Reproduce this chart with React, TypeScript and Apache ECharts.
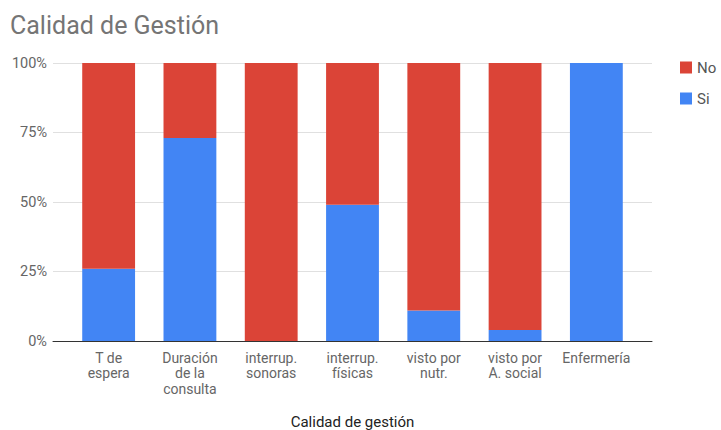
import React, { useEffect, useRef } from "react";
import * as echarts from "echarts";

const categories = [
  "T de espera",
  "Duración de la consulta",
  "interrup. sonoras",
  "interrup. físicas",
  "visto por nutr.",
  "visto por A. social",
  "Enfermería",
];
const tickLabels = [
  "T de\nespera",
  "Duración\nde la\nconsulta",
  "interrup.\nsonoras",
  "interrup.\nfísicas",
  "visto por\nnutr.",
  "visto por\nA. social",
  "Enfermería",
];
const siValues = [26, 73, 0, 49, 11, 4, 100];
const noValues = [74, 27, 100, 51, 89, 96, 0];
const yTicks = [0, 25, 50, 75, 100];

const FONT = "Roboto, 'Noto Sans', Arial, sans-serif";

export default function App() {
  const ref = useRef<HTMLDivElement>(null);

  useEffect(() => {
    if (!ref.current) return;
    const chart = echarts.init(ref.current, null, { renderer: "svg" });
    chart.setOption({
      animation: false,
      textStyle: { fontFamily: FONT },
      title: {
        text: "Calidad de Gestión",
        left: 5,
        top: 8,
        textStyle: { fontFamily: FONT, fontSize: 25, fontWeight: "normal", color: "#757575" },
      },
      legend: {
        orient: "vertical",
        left: 675,
        top: 55,
        itemWidth: 12,
        itemHeight: 12,
        itemGap: 16,
        icon: "rect",
        data: ["No", "Si"],
        textStyle: { fontFamily: FONT, fontSize: 15, color: "#555" },
      },
      grid: [
        // full-width frame carrying the gridlines and baseline
        { left: 53, right: 69, top: 63, bottom: 89, containLabel: false, outerBoundsMode: "none" },
        // inner band region for the bars
        { left: 68, right: 84, top: 63, bottom: 89, containLabel: false, outerBoundsMode: "none" },
      ],
      xAxis: [
        {
          gridIndex: 0,
          type: "value",
          min: 0,
          max: 1,
          axisLine: { show: true, onZero: false, lineStyle: { color: "#333", width: 1 } },
          axisTick: { show: false },
          axisLabel: { show: false },
          splitLine: { show: false },
        },
        {
          gridIndex: 1,
          type: "category",
          data: categories,
          name: "Calidad de gestión",
          nameLocation: "middle",
          nameGap: 73,
          nameTextStyle: { fontFamily: FONT, fontSize: 15, color: "#222" },
          axisLine: { show: false },
          axisTick: { show: false },
          axisLabel: {
            interval: 0,
            margin: 9,
            fontFamily: FONT,
            fontSize: 14,
            lineHeight: 15.5,
            color: "#666",
            formatter: (_v: string, i: number) => tickLabels[i],
          },
        },
      ],
      yAxis: [
        {
          gridIndex: 0,
          type: "value",
          min: 0,
          max: 100,
          interval: 25,
          axisLine: { show: false },
          axisTick: { show: false },
          axisLabel: {
            margin: 6,
            fontFamily: FONT,
            fontSize: 14.5,
            color: "#666",
            formatter: (v: number) => (yTicks.includes(v) ? `${v}%` : ""),
          },
          splitLine: { show: true, lineStyle: { color: "#e0e0e0", width: 1 } },
        },
        {
          gridIndex: 1,
          type: "value",
          min: 0,
          max: 100,
          interval: 25,
          show: false,
          splitLine: { show: false },
        },
      ],
      series: [
        {
          name: "Si",
          type: "bar",
          stack: "total",
          xAxisIndex: 1,
          yAxisIndex: 1,
          barWidth: "65%",
          data: siValues,
          itemStyle: { color: "#4285F4" },
        },
        {
          name: "No",
          type: "bar",
          stack: "total",
          xAxisIndex: 1,
          yAxisIndex: 1,
          barWidth: "65%",
          data: noValues,
          itemStyle: { color: "#DB4437" },
        },
      ],
    });
    return () => chart.dispose();
  }, []);

  return <div ref={ref} style={{ width: 721, height: 430, position: "absolute", left: 0, top: 0 }} />;
}
